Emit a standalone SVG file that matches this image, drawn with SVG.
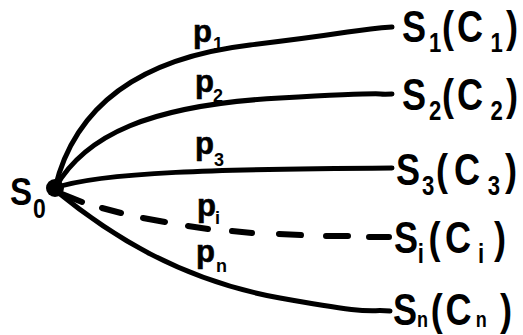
<svg xmlns="http://www.w3.org/2000/svg" width="523" height="335" viewBox="0 0 523 335">
<style>
.big{font-family:"Liberation Sans","DejaVu Sans",sans-serif;font-weight:bold;font-size:44px;fill:#000}
.sub{font-family:"Liberation Sans","DejaVu Sans",sans-serif;font-weight:bold;font-size:27px;fill:#000}
.subn{font-family:"Liberation Sans","DejaVu Sans",sans-serif;font-weight:bold;font-size:22px;fill:#000}
.p{font-family:"Liberation Sans","DejaVu Sans",sans-serif;font-weight:bold;font-size:31px;fill:#000;stroke:#000;stroke-width:0.6}
.ps{font-family:"Liberation Sans","DejaVu Sans",sans-serif;font-weight:bold;font-size:18px;fill:#000}
.edge{fill:none;stroke:#000;stroke-width:5;stroke-linecap:round}
.dash{fill:none;stroke:#000;stroke-width:6;stroke-linecap:round}
</style>
<rect width="523" height="335" fill="#fff"/>
<g id="connectors">
<path class="edge" d="M55,188 C75,105 140,58 250,45 S350,30 392,27"/>
<path class="edge" d="M55,188 C85,135 150,105 280,98 S365,95 392,94"/>
<path class="edge" d="M55,188 C100,172 220,169 392,168"/>
<path class="dash" d="M62,194 L82,202 M102,208 L121,213 M143,218 L165,222 M188,226 L208,229 M232,231 L252,233 M279,234 L301,235 M326,236 L348,236 M369,237 L389,237"/>
<path class="edge" d="M55,190 C110,235 180,280 280,298 S365,309 390,311"/>
<text class="p" x="193" y="42">p</text><text class="ps" x="213" y="50">1</text>
<text class="p" x="195" y="92">p</text><text class="ps" x="213" y="102">2</text>
<text class="p" x="195" y="154">p</text><text class="ps" x="214" y="166">3</text>
<text class="p" x="197" y="216">p</text><text class="ps" x="215" y="224">i</text>
<text class="p" x="196" y="262">p</text><text class="ps" x="216" y="272">n</text>
</g>
<g id="S0">
<circle cx="55" cy="188" r="9" fill="#000"/>
<text transform="translate(10,205) scale(0.85,1)"><tspan class="big" style="font-size:39px" x="0" y="0">S</tspan><tspan class="sub" x="27" y="13">0</tspan></text>
</g>
<g id="S1">
<text class="big" transform="translate(402,42) scale(0.82,1)"><tspan x="0" y="0">S</tspan><tspan class="sub" x="33" y="10">1</tspan><tspan x="48.8" y="0">(</tspan><tspan x="67.1">C</tspan><tspan class="sub" x="108" y="10">1</tspan><tspan x="126.8" y="0">)</tspan></text>
</g>
<g id="S2">
<text class="big" transform="translate(402,110) scale(0.82,1)"><tspan x="0" y="0">S</tspan><tspan class="sub" x="33" y="10">2</tspan><tspan x="48.8" y="0">(</tspan><tspan x="67.1">C</tspan><tspan class="sub" x="108" y="10">2</tspan><tspan x="126.8" y="0">)</tspan></text>
</g>
<g id="S3">
<text class="big" transform="translate(396,185) scale(0.82,1)"><tspan x="0" y="0">S</tspan><tspan class="sub" x="31.7" y="10">3</tspan><tspan x="48.8" y="0">(</tspan><tspan x="70.7">C</tspan><tspan class="sub" x="112" y="10">3</tspan><tspan x="132.9" y="0">)</tspan></text>
</g>
<g id="Si">
<text class="big" transform="translate(394,253) scale(0.82,1)"><tspan x="0" y="0">S</tspan><tspan class="sub" x="29" y="10">i</tspan><tspan x="42" y="0">(</tspan><tspan x="62.2">C</tspan><tspan class="sub" x="102.4" y="10">i</tspan><tspan x="122" y="0">)</tspan></text>
</g>
<g id="Sn">
<text class="big" transform="translate(393,325) scale(0.82,1)"><tspan x="0" y="0">S</tspan><tspan class="subn" x="29.3" y="2">n</tspan><tspan x="46" y="0">(</tspan><tspan x="64">C</tspan><tspan class="subn" x="101" y="2">n</tspan><tspan x="130.5" y="0">)</tspan></text>
</g>
</svg>
